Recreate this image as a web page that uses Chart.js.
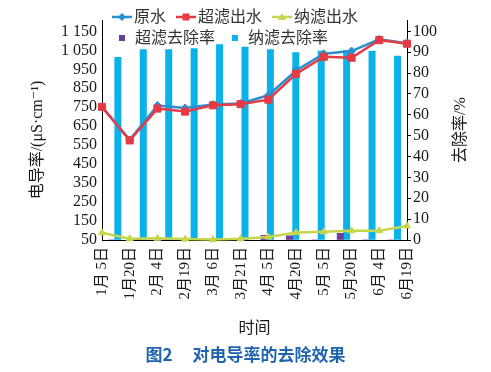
<!DOCTYPE html>
<html>
<head>
<meta charset="utf-8">
<script src="https://cdn.jsdelivr.net/npm/chart.js@4.4.1/dist/chart.umd.min.js"></script>
<style>
  body { margin: 0; background: #fff; }
  #wrap { position: relative; width: 491px; height: 372px; }
  #legend {
    position: absolute; left: 112px; top: 6px;
    font: 16px "Liberation Serif", "Times New Roman", "DejaVu Serif", "Noto Sans CJK SC", serif;
    line-height: 21px; color: #333;
  }
  .row { display: flex; gap: 10px; }
  .item { display: flex; align-items: center; gap: 2px; }
  #caption {
    position: absolute; left: 0; top: 341px; width: 491px; text-align: center;
    font: bold 17px "Noto Sans CJK SC", sans-serif; color: #1f64ad;
  }
  #caption span + span { margin-left: 20px; }
</style>
</head>
<body>
<div id="wrap">
  <canvas id="chart" width="491" height="372"></canvas>
  <div id="legend"></div>
  <div id="caption"><span>图2</span><span>对电导率的去除效果</span></div>
</div>
<script>
const dates = ["1月 5日", "1月20日", "2月 4日", "2月19日", "3月 6日", "3月21日",
  "4月 5日", "4月20日", "5月 5日", "5月20日", "6月 4日", "6月19日"];

// conductivity, uS/cm (left axis)
const rawWater = [752, 578, 759, 746, 764, 770, 813, 944, 1032, 1046, 1108, 1088];
const ufWater = [752, 575, 743, 727, 760, 766, 790, 926, 1016, 1011, 1104, 1085];
const nfWater = [88, 57, 59, 55, 52, 57, 66, 89, 93, 99, 99, 124];

// removal rate, % (right axis)
const ufRemoval = [0, 0.6, 0, 0, 0.6, 0, 2.2, 2, 0, 3.2, 0, 0];
const nfRemoval = [87.6, 91.3, 91.3, 91.7, 93.7, 92.5, 91.3, 89.8, 90.5, 90.9, 90.5, 88.1];

const leftTicks = [50, 150, 250, 350, 450, 550, 650, 750, 850, 950, 1050, 1150];
const rightTicks = [0, 10, 20, 30, 40, 50, 60, 70, 80, 90, 100];

const xTitle = "时间";
const yTitle = "电导率/(μS·cm⁻¹)";
const y2Title = "去除率/%";

const fontFamily = '"Liberation Serif", "Times New Roman", "DejaVu Serif", "Noto Sans CJK SC", serif';
const tickFont = { family: fontFamily, size: 16 };
const ink = "#1a1a1a";

function formatThousands(v) {
  if (v < 1000) return String(v);
  return Math.floor(v / 1000) + " " + String(v % 1000).padStart(3, "0");
}

const datasets = [
  {
    type: "line", label: "原水", data: rawWater,
    borderColor: "#2a8fcf", backgroundColor: "#2a8fcf",
    pointStyle: "rectRot", pointRadius: 4, borderWidth: 2.5, order: 2,
  },
  {
    type: "line", label: "超滤出水", data: ufWater,
    borderColor: "#e63a45", backgroundColor: "#e63a45",
    pointStyle: "rect", pointRadius: 5, borderWidth: 2.5, order: 1,
  },
  {
    type: "line", label: "纳滤出水", data: nfWater,
    borderColor: "#c6d64b", backgroundColor: "#c6d64b",
    pointStyle: "triangle", pointRadius: 4, borderWidth: 2.5, order: 3,
  },
  {
    type: "bar", label: "超滤去除率", data: ufRemoval,
    backgroundColor: "#6a3d9a", order: 10,
  },
  {
    type: "bar", label: "纳滤去除率", data: nfRemoval,
    backgroundColor: "#0bb2ea", order: 11,
  },
];

datasets.forEach((ds) => {
  if (ds.type === "line") {
    ds.xAxisID = "x";
    ds.yAxisID = "y";
    ds.tension = 0;
    ds.clip = false;
    ds.pointBorderWidth = 1;
  } else {
    ds.xAxisID = "xb";
    ds.yAxisID = "y2";
    ds.categoryPercentage = 1;
    ds.barPercentage = 1;
  }
});

const axisTitles = {
  id: "axisTitles",
  afterDraw(chart) {
    const { ctx, chartArea } = chart;
    ctx.save();
    ctx.fillStyle = ink;
    ctx.font = "16px " + fontFamily;
    ctx.textAlign = "center";
    ctx.textBaseline = "middle";
    ctx.fillText(xTitle, (chartArea.left + chartArea.right) / 2, chartArea.bottom + 89);

    ctx.save();
    ctx.translate(chartArea.left - 64, 140);
    ctx.rotate(-Math.PI / 2);
    ctx.fillText(yTitle, 0, 0);
    ctx.restore();

    ctx.translate(chartArea.right + 54, 130);
    ctx.rotate(-Math.PI / 2);
    ctx.fillText(y2Title, 0, 0);
    ctx.restore();
  },
};

new Chart(document.getElementById("chart"), {
  data: { labels: dates, datasets },
  options: {
    responsive: false,
    animation: false,
    layout: { padding: { top: 20, left: 0, right: 0, bottom: 0 } },
    plugins: { legend: { display: false }, tooltip: { enabled: false } },
    scales: {
      x: {
        type: "category", labels: dates, offset: false, position: "bottom",
        grid: { drawOnChartArea: false, drawTicks: false },
        border: { color: "#000", width: 1 },
        ticks: { autoSkip: false, minRotation: 90, maxRotation: 90, padding: 7, font: { ...tickFont, size: 15 }, color: ink },
        afterFit(s) { s.height = 132; },
      },
      xb: { type: "category", labels: dates, offset: true, display: false },
      y: {
        position: "left", min: 50, max: 1210,
        grid: { drawOnChartArea: false, drawTicks: false },
        border: { color: "#000", width: 1 },
        ticks: { autoSkip: false, padding: 5, font: tickFont, color: ink, callback: (v) => formatThousands(v) },
        afterBuildTicks(s) { s.ticks = leftTicks.map((value) => ({ value })); },
        afterFit(s) { s.width = 102; },
      },
      y2: {
        position: "right", min: 0, max: 105.45,
        grid: { drawOnChartArea: false, drawTicks: true, tickLength: 4, color: "#000" },
        border: { color: "#000", width: 1 },
        ticks: { autoSkip: false, padding: 2, font: tickFont, color: ink },
        afterBuildTicks(s) { s.ticks = rightTicks.map((value) => ({ value })); },
        afterFit(s) { s.width = 84; },
      },
    },
  },
  plugins: [axisTitles],
});

// legend built from dataset styles
function markerSvg(ds) {
  const c = ds.borderColor || ds.backgroundColor;
  let shape = "";
  if (ds.type === "bar") {
    shape = `<rect x="7" y="3" width="6" height="6" fill="${ds.backgroundColor}"/>`;
  } else {
    shape = `<line x1="0" y1="6" x2="20" y2="6" stroke="${c}" stroke-width="2.5"/>`;
    if (ds.pointStyle === "rect") shape += `<rect x="6.5" y="2.5" width="7" height="7" fill="${c}"/>`;
    if (ds.pointStyle === "rectRot") shape += `<polygon points="10,2 14,6 10,10 6,6" fill="${c}"/>`;
    if (ds.pointStyle === "triangle") shape += `<polygon points="10,2 14,9 6,9" fill="${c}"/>`;
  }
  return `<svg width="20" height="12">${shape}</svg>`;
}

const legendEl = document.getElementById("legend");
const rows = [datasets.filter((d) => d.type === "line"), datasets.filter((d) => d.type === "bar")];
legendEl.innerHTML = rows
  .map((row) => `<div class="row">${row
    .map((ds) => `<div class="item">${markerSvg(ds)}<span${ds.type === "bar" ? ' style="margin-left:1px"' : ""}>${ds.label}</span></div>`)
    .join("")}</div>`)
  .join("");
</script>
</body>
</html>
